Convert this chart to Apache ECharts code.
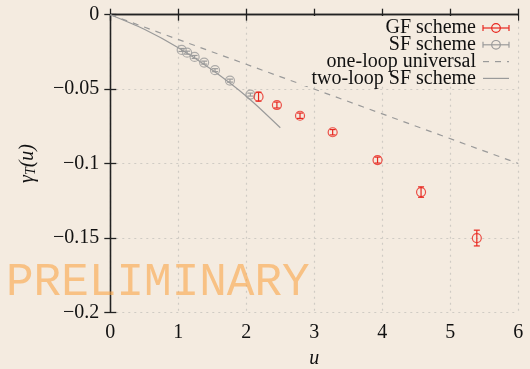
<!DOCTYPE html>
<html>
<head>
<meta charset="utf-8">
<script src="https://cdn.jsdelivr.net/npm/echarts@6/dist/echarts.min.js"></script>
<style>
  html, body { margin: 0; padding: 0; background: #f4ebe0; }
  #chart { width: 530px; height: 369px; }
</style>
</head>
<body>
<div id="chart"></div>
<script>
// Gradient-flow scheme measurements: u, gamma_T(u), error
const gfU   = [2.18, 2.45, 2.79, 3.27, 3.93, 4.57, 5.39];
const gfG   = [-0.0551, -0.0607, -0.0679, -0.0790, -0.0977, -0.1192, -0.1501];
const gfErr = [0.0030, 0.0020, 0.0018, 0.0018, 0.0020, 0.0035, 0.0053];

// Schrödinger-functional scheme measurements
const sfU   = [1.05, 1.13, 1.24, 1.38, 1.54, 1.76, 2.06];
const sfG   = [-0.0237, -0.0255, -0.0284, -0.0322, -0.0373, -0.0443, -0.0537];
const sfErr = [0.0010, 0.0010, 0.0010, 0.0010, 0.0010, 0.0010, 0.0010];

// Perturbative curves
const oneLoopU = [0, 6];
const oneLoopG = [0, -0.1];
const twoLoopU = [0, 0.5, 1, 1.5, 2, 2.5];
const twoLoopG = [0, -0.0098, -0.0222, -0.0372, -0.0548, -0.0760];

// Axis tick labels
const xTickLabels = ['0', '1', '2', '3', '4', '5', '6'];
const yTickLabels = ['\u22120.2', '\u22120.15', '\u22120.1', '\u22120.05', '0'];

const legendNames = ['GF scheme', 'SF scheme', 'one-loop universal', 'two-loop SF scheme'];

const RED = '#e8271f';
const GRAY = '#9a9a9a';
const FONT = 'Liberation Serif';
const FS = 20;

const zip = (a, b, c) => a.map((v, i) => c ? [v, b[i], c[i]] : [v, b[i]]);

function errorBars(color) {
  return function (params, api) {
    const x = api.value(0), y = api.value(1), e = api.value(2);
    const t = api.coord([x, y + e]);
    const b = api.coord([x, y - e]);
    const w = 3;
    const st = { stroke: color, lineWidth: 1.2 };
    return {
      type: 'group',
      children: [
        { type: 'line', shape: { x1: t[0], y1: t[1], x2: b[0], y2: b[1] }, style: st },
        { type: 'line', shape: { x1: t[0] - w, y1: t[1], x2: t[0] + w, y2: t[1] }, style: st },
        { type: 'line', shape: { x1: b[0] - w, y1: b[1], x2: b[0] + w, y2: b[1] }, style: st }
      ]
    };
  };
}

const axisLineStyle = { lineStyle: { color: '#222', width: 1.3 } };
const tickStyle = { inside: true, length: 6, lineStyle: { color: '#222', width: 1.3 } };
const splitStyle = { show: true, lineStyle: { color: '#cfcbc4', type: [2, 4], width: 1.2 } };

const chart = echarts.init(document.getElementById('chart'), null, { renderer: 'canvas' });

// Legend entries drawn at the upper right, text right-aligned
const legendRight = 476, legendY0 = 28, legendDy = 16.8;
const legendGraphics = [
  { type: 'rect', shape: { x: 302, y: 16, width: 216, height: 70 }, style: { fill: '#f4ebe0' }, z: 50 }
];
legendNames.forEach((name, i) => {
  const y = legendY0 + i * legendDy;
  legendGraphics.push({
    type: 'text', x: legendRight, y: y, z: 51,
    style: { text: name, font: FS + 'px "' + FONT + '"', fill: '#111', align: 'right', verticalAlign: 'middle' }
  });
  const x1 = 483, x2 = 509, cx = 496;
  if (i < 2) {
    const col = i === 0 ? RED : GRAY;
    const st = { stroke: col, lineWidth: 1.2, fill: null };
    legendGraphics.push({ type: 'line', z: 51, shape: { x1: x1, y1: y, x2: x2, y2: y }, style: st });
    legendGraphics.push({ type: 'line', z: 51, shape: { x1: x1, y1: y - 3, x2: x1, y2: y + 3 }, style: st });
    legendGraphics.push({ type: 'line', z: 51, shape: { x1: x2, y1: y - 3, x2: x2, y2: y + 3 }, style: st });
    legendGraphics.push({ type: 'circle', z: 52, shape: { cx: cx, cy: y, r: 4.3 }, style: { stroke: col, lineWidth: 1.2, fill: 'rgba(0,0,0,0)' } });
  } else if (i === 2) {
    legendGraphics.push({ type: 'line', z: 51, shape: { x1: x1, y1: y, x2: x2, y2: y }, style: { stroke: GRAY, lineWidth: 1.2, lineDash: [6, 6] } });
  } else {
    legendGraphics.push({ type: 'line', z: 51, shape: { x1: x1, y1: y, x2: x2, y2: y }, style: { stroke: GRAY, lineWidth: 1.2 } });
  }
});

const option = {
  backgroundColor: '#f4ebe0',
  animation: false,
  textStyle: { fontFamily: FONT },
  grid: { left: 110.3, right: 11.7, top: 14.7, bottom: 56.7, containLabel: false, outerBoundsMode: 'none' },
  xAxis: [
    {
      type: 'value', min: 0, max: 6, interval: 1, position: 'bottom',
      axisLine: axisLineStyle, axisTick: tickStyle, splitLine: splitStyle,
      axisLabel: { color: '#111', fontSize: FS, fontFamily: FONT, margin: 10,
        formatter: (v) => xTickLabels[Math.round(v)] },
      name: 'u', nameLocation: 'middle', nameGap: 36,
      nameTextStyle: { fontSize: FS, fontFamily: FONT, fontStyle: 'italic', color: '#111' }
    },
    {
      type: 'value', min: 0, max: 6, interval: 1, position: 'top',
      axisLine: axisLineStyle, axisTick: tickStyle, splitLine: { show: false },
      axisLabel: { show: false }
    }
  ],
  yAxis: [
    {
      type: 'value', min: -0.2, max: 0, interval: 0.05, position: 'left',
      axisLine: axisLineStyle, axisTick: tickStyle, splitLine: splitStyle,
      axisLabel: { color: '#111', fontSize: FS, fontFamily: FONT, margin: 11,
        formatter: (v) => yTickLabels[Math.round((v + 0.2) / 0.05)] },
      name: '{i|\u03b3}{s|T}{i|(u)}', nameLocation: 'middle', nameGap: 72, nameRotate: 90,
      nameTextStyle: {
        color: '#111',
        rich: {
          i: { fontSize: FS, fontFamily: FONT, fontStyle: 'italic', color: '#111' },
          s: { fontSize: 14, fontFamily: FONT, fontStyle: 'italic', color: '#111', verticalAlign: 'bottom', padding: [8, 0, 0, 0] }
        }
      }
    },
    {
      type: 'value', min: -0.2, max: 0, interval: 0.05, position: 'right',
      axisLine: axisLineStyle, axisTick: tickStyle, splitLine: { show: false },
      axisLabel: { show: false }
    }
  ],
  series: [
    {
      name: legendNames[2], type: 'line', data: zip(oneLoopU, oneLoopG),
      symbol: 'none', lineStyle: { color: GRAY, width: 1.2, type: [6, 6] }, z: 2
    },
    {
      name: legendNames[3], type: 'line', data: zip(twoLoopU, twoLoopG), smooth: 0.3,
      symbol: 'none', lineStyle: { color: GRAY, width: 1.2 }, z: 2
    },
    {
      name: legendNames[1] + ' errors', type: 'custom', data: zip(sfU, sfG, sfErr),
      renderItem: errorBars(GRAY), z: 3
    },
    {
      name: legendNames[1], type: 'scatter', data: zip(sfU, sfG), symbol: 'circle', symbolSize: 9,
      itemStyle: { color: 'rgba(0,0,0,0)', borderColor: GRAY, borderWidth: 1.2 }, z: 3
    },
    {
      name: legendNames[0] + ' errors', type: 'custom', data: zip(gfU, gfG, gfErr),
      renderItem: errorBars(RED), z: 4
    },
    {
      name: legendNames[0], type: 'scatter', data: zip(gfU, gfG), symbol: 'circle', symbolSize: 9,
      itemStyle: { color: 'rgba(0,0,0,0)', borderColor: RED, borderWidth: 1.2 }, z: 4
    }
  ],
  graphic: legendGraphics.concat([
    {
      type: 'text', x: 6, y: 306, z: 60, scaleY: 1.0,
      style: {
        text: 'PRELIMINARY', font: '46px "Liberation Mono"', fill: 'rgba(250,165,70,0.6)',
        align: 'left', verticalAlign: 'bottom'
      }
    }
  ])
};

chart.setOption(option);
</script>
</body>
</html>
